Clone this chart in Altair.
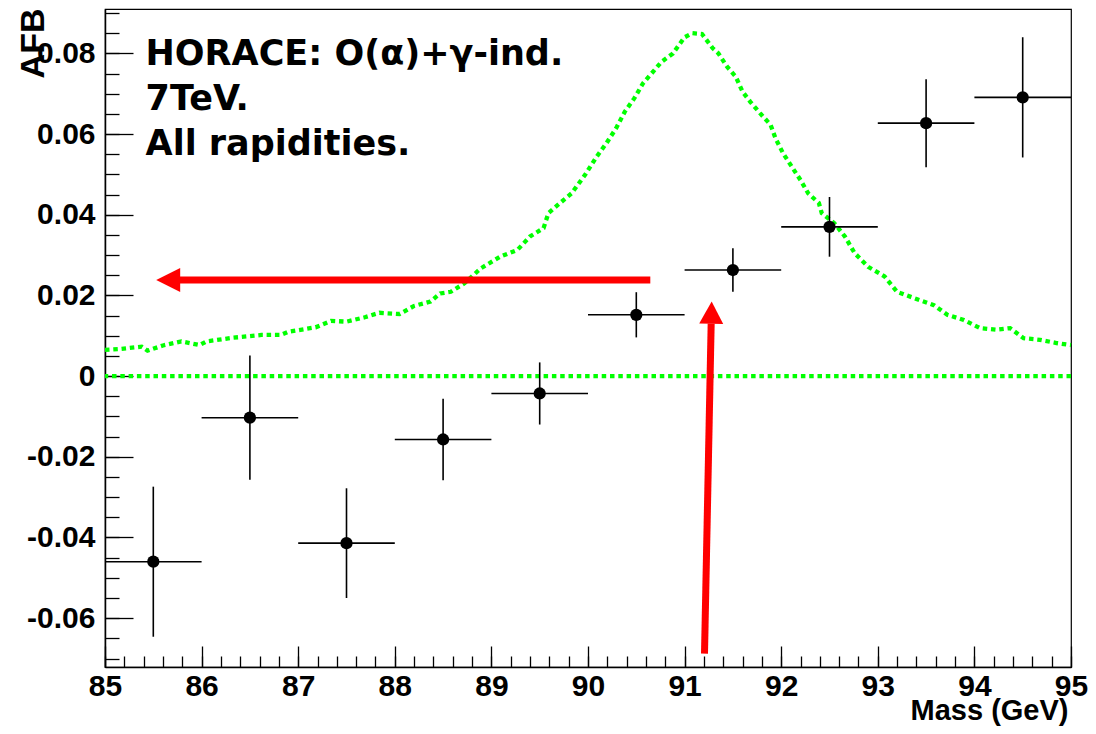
import altair as alt
import pandas as pd

# ---------------- data ----------------
bin_centers = [85.5, 86.5, 87.5, 88.5, 89.5, 90.5, 91.5, 92.5, 93.5, 94.5]
afb_values = [-0.0460, -0.0103, -0.0414, -0.0157, -0.0043, 0.0152, 0.0263, 0.0370, 0.0627, 0.0691]
afb_errors = [0.0186, 0.0154, 0.0136, 0.0101, 0.0077, 0.0056, 0.0054, 0.0074, 0.0109, 0.0149]
bin_half_width = [0.5] * 10

curve_mass = [85.00, 85.15, 85.38, 85.44, 85.60, 85.79, 85.98, 86.05, 86.32, 86.62,
              86.82, 86.90, 87.18, 87.34, 87.50, 87.69, 87.84, 88.05, 88.20, 88.37,
              88.47, 88.58, 88.72, 88.89, 89.09, 89.27, 89.40, 89.54, 89.59, 89.71,
              89.83, 89.97, 90.09, 90.19, 90.29, 90.38, 90.48, 90.57, 90.69, 90.76,
              90.88, 91.00, 91.08, 91.18, 91.29, 91.35, 91.44, 91.53, 91.60, 91.68,
              91.78, 91.89, 91.94, 92.02, 92.11, 92.20, 92.28, 92.39, 92.42, 92.55,
              92.66, 92.76, 92.90, 93.07, 93.20, 93.38, 93.58, 93.72, 93.89, 94.06,
              94.23, 94.37, 94.51, 94.68, 94.85, 95.00]
curve_afb = [0.0065, 0.0067, 0.0073, 0.0063, 0.0076, 0.0086, 0.0077, 0.0086, 0.0095, 0.0102,
             0.0102, 0.0110, 0.0121, 0.0137, 0.0135, 0.0146, 0.0157, 0.0154, 0.0174, 0.0185,
             0.0205, 0.0209, 0.0230, 0.0267, 0.0296, 0.0313, 0.0346, 0.0367, 0.0404, 0.0429,
             0.0453, 0.0499, 0.0544, 0.0577, 0.0614, 0.0655, 0.0689, 0.0726, 0.0759, 0.0779,
             0.0800, 0.0840, 0.0850, 0.0848, 0.0813, 0.0800, 0.0767, 0.0742, 0.0705, 0.0680,
             0.0652, 0.0623, 0.0590, 0.0552, 0.0519, 0.0486, 0.0453, 0.0429, 0.0404, 0.0379,
             0.0346, 0.0305, 0.0271, 0.0247, 0.0209, 0.0193, 0.0176, 0.0152, 0.0139, 0.0119,
             0.0115, 0.0119, 0.0094, 0.0090, 0.0082, 0.0077]

zero_level = [0.0]

y_major_ticks = [-0.06, -0.04, -0.02, 0.0, 0.02, 0.04, 0.06, 0.08]
y_minor_ticks = [round(-0.07 + 0.005 * i, 3) for i in range(33)]
x_major_ticks = [85, 86, 87, 88, 89, 90, 91, 92, 93, 94, 95]
x_minor_ticks = [round(85 + 0.2 * i, 1) for i in range(51)]

annotation_lines = ["HORACE: O(α)+γ-ind.", "7TeV.", "All rapidities."]
annotation_x = [85.42, 85.42, 85.42]
annotation_y = [0.0771, 0.0660, 0.0548]

# red arrows: shaft start/end and head tip
h_arrow_shaft_x = [90.645, 85.77]
h_arrow_shaft_y = [0.0238, 0.0238]
h_arrow_tip = [85.53, 0.0238]
v_arrow_shaft_x = [91.206, 91.275]
v_arrow_shaft_y = [-0.0688, 0.0130]
v_arrow_tip = [91.28, 0.0185]

# ---------------- tables ----------------
pts = pd.DataFrame({"mass": bin_centers, "afb": afb_values, "err": afb_errors, "hw": bin_half_width})
pts["lo"] = pts["afb"] - pts["err"]
pts["hi"] = pts["afb"] + pts["err"]
pts["xlo"] = pts["mass"] - pts["hw"]
pts["xhi"] = pts["mass"] + pts["hw"]

curve = pd.DataFrame({"mass": curve_mass, "afb": curve_afb})
zero_df = pd.DataFrame({"y": zero_level})
text_df = pd.DataFrame({"x": annotation_x, "y": annotation_y, "t": annotation_lines})
shafts = pd.DataFrame({
    "x": [h_arrow_shaft_x[0], v_arrow_shaft_x[0]],
    "x2": [h_arrow_shaft_x[1], v_arrow_shaft_x[1]],
    "y": [h_arrow_shaft_y[0], v_arrow_shaft_y[0]],
    "y2": [h_arrow_shaft_y[1], v_arrow_shaft_y[1]],
})
h_tip = pd.DataFrame({"x": [h_arrow_tip[0]], "y": [h_arrow_tip[1]]})
v_tip = pd.DataFrame({"x": [v_arrow_tip[0]], "y": [v_arrow_tip[1]]})

# ---------------- styling ----------------
XS = alt.Scale(domain=[85, 95], nice=False, zero=False)
YS = alt.Scale(domain=[-0.0721, 0.0910], nice=False, zero=False)
GREEN = "#00ff00"
AXFONT = "Liberation Sans"
PLOT_W = 966

x_main_axis = alt.Axis(
    orient="bottom", values=x_major_ticks, format="d", ticks=False, tickSize=0,
    domain=True, domainColor="black", domainWidth=1.5, grid=False,
    labelFont=AXFONT, labelFontWeight="bold", labelFontSize=30, labelColor="black",
    labelPadding=28.5, labelBaseline="alphabetic", labelFlush=False, labelOverlap=False,
    title="Mass (GeV)", titleFont=AXFONT, titleFontWeight="bold", titleFontSize=29,
    titleColor="black", titleX=PLOT_W - 3, titleY=52, titleAlign="right", titleBaseline="alphabetic",
)
y_main_axis = alt.Axis(
    orient="left", values=y_major_ticks, ticks=False, tickSize=0,
    labelExpr="datum.value == 0 ? '0' : (datum.value < 0 ? '-' : '') + format(abs(datum.value), '.2f')",
    domain=True, domainColor="black", domainWidth=1.5, grid=False,
    labelFont=AXFONT, labelFontWeight="bold", labelFontSize=30, labelColor="black",
    labelPadding=10, labelOverlap=False, labelFlush=False,
    title="AFB", titleFont=AXFONT, titleFontWeight="bold", titleFontSize=34,
    titleColor="black", titleAngle=270, titleX=-62, titleY=-1, titleAlign="right",
    titleBaseline="alphabetic",
)


def tick_axis(orient, values, length):
    return alt.Axis(orient=orient, values=values, offset=-length, tickSize=length,
                    ticks=True, tickColor="black", tickWidth=1.3, labels=False,
                    domain=False, grid=False, title=None)


curve_layer = alt.Chart(curve).mark_line(
    color=GREEN, strokeWidth=4.3, strokeDash=[4.5, 3.8], interpolate="linear"
).encode(
    x=alt.X("mass:Q", scale=XS, axis=x_main_axis),
    y=alt.Y("afb:Q", scale=YS, axis=y_main_axis),
)

zero_layer = alt.Chart(zero_df).mark_rule(
    color=GREEN, strokeWidth=4.3, strokeDash=[4.5, 3.8]
).encode(y=alt.Y("y:Q", scale=YS, axis=None))

herr = alt.Chart(pts).mark_rule(color="black", strokeWidth=1.6).encode(
    x=alt.X("xlo:Q", scale=XS, axis=tick_axis("bottom", x_major_ticks, 21)),
    x2="xhi:Q",
    y=alt.Y("afb:Q", scale=YS, axis=tick_axis("left", y_major_ticks, 28)),
)
verr = alt.Chart(pts).mark_rule(color="black", strokeWidth=1.6).encode(
    x=alt.X("mass:Q", scale=XS, axis=tick_axis("bottom", x_minor_ticks, 11)),
    y=alt.Y("lo:Q", scale=YS, axis=tick_axis("left", y_minor_ticks, 14)),
    y2="hi:Q",
)
points = alt.Chart(pts).mark_point(filled=True, shape="circle", size=150, color="black", opacity=1).encode(
    x=alt.X("mass:Q", scale=XS, axis=None),
    y=alt.Y("afb:Q", scale=YS, axis=None),
)

shaft_layer = alt.Chart(shafts).mark_rule(color="#ff0000", strokeWidth=7).encode(
    x=alt.X("x:Q", scale=XS, axis=None), x2="x2:Q",
    y=alt.Y("y:Q", scale=YS, axis=None), y2="y2:Q",
)
h_head = alt.Chart(h_tip).mark_point(
    shape="M0,0L2,-1L2,1Z", filled=True, size=576, color="#ff0000", opacity=1, strokeWidth=0
).encode(x=alt.X("x:Q", scale=XS, axis=None), y=alt.Y("y:Q", scale=YS, axis=None))
v_head = alt.Chart(v_tip).mark_point(
    shape="M0,0L-1,1.85L1,1.85Z", filled=True, size=576, color="#ff0000", opacity=1,
    strokeWidth=0, angle=1.1
).encode(x=alt.X("x:Q", scale=XS, axis=None), y=alt.Y("y:Q", scale=YS, axis=None))

text_layer = alt.Chart(text_df).mark_text(
    align="left", baseline="alphabetic", font="DejaVu Sans", fontWeight="bold",
    fontSize=35, color="black"
).encode(
    x=alt.X("x:Q", scale=XS, axis=None),
    y=alt.Y("y:Q", scale=YS, axis=None),
    text="t:N",
)

chart = alt.layer(
    curve_layer, zero_layer, herr, verr, points, shaft_layer, h_head, v_head, text_layer
).resolve_axis(
    x="independent", y="independent"
).properties(
    width=PLOT_W, height=658,
    padding={"left": 97, "top": 1, "right": 17, "bottom": 59},
    autosize=alt.AutoSizeParams(type="none"),
    background="white",
).configure_view(
    stroke="black", strokeWidth=1.2
).configure_axis(grid=False)

chart.save("out.html", embed_options={"renderer": "svg", "actions": False})
